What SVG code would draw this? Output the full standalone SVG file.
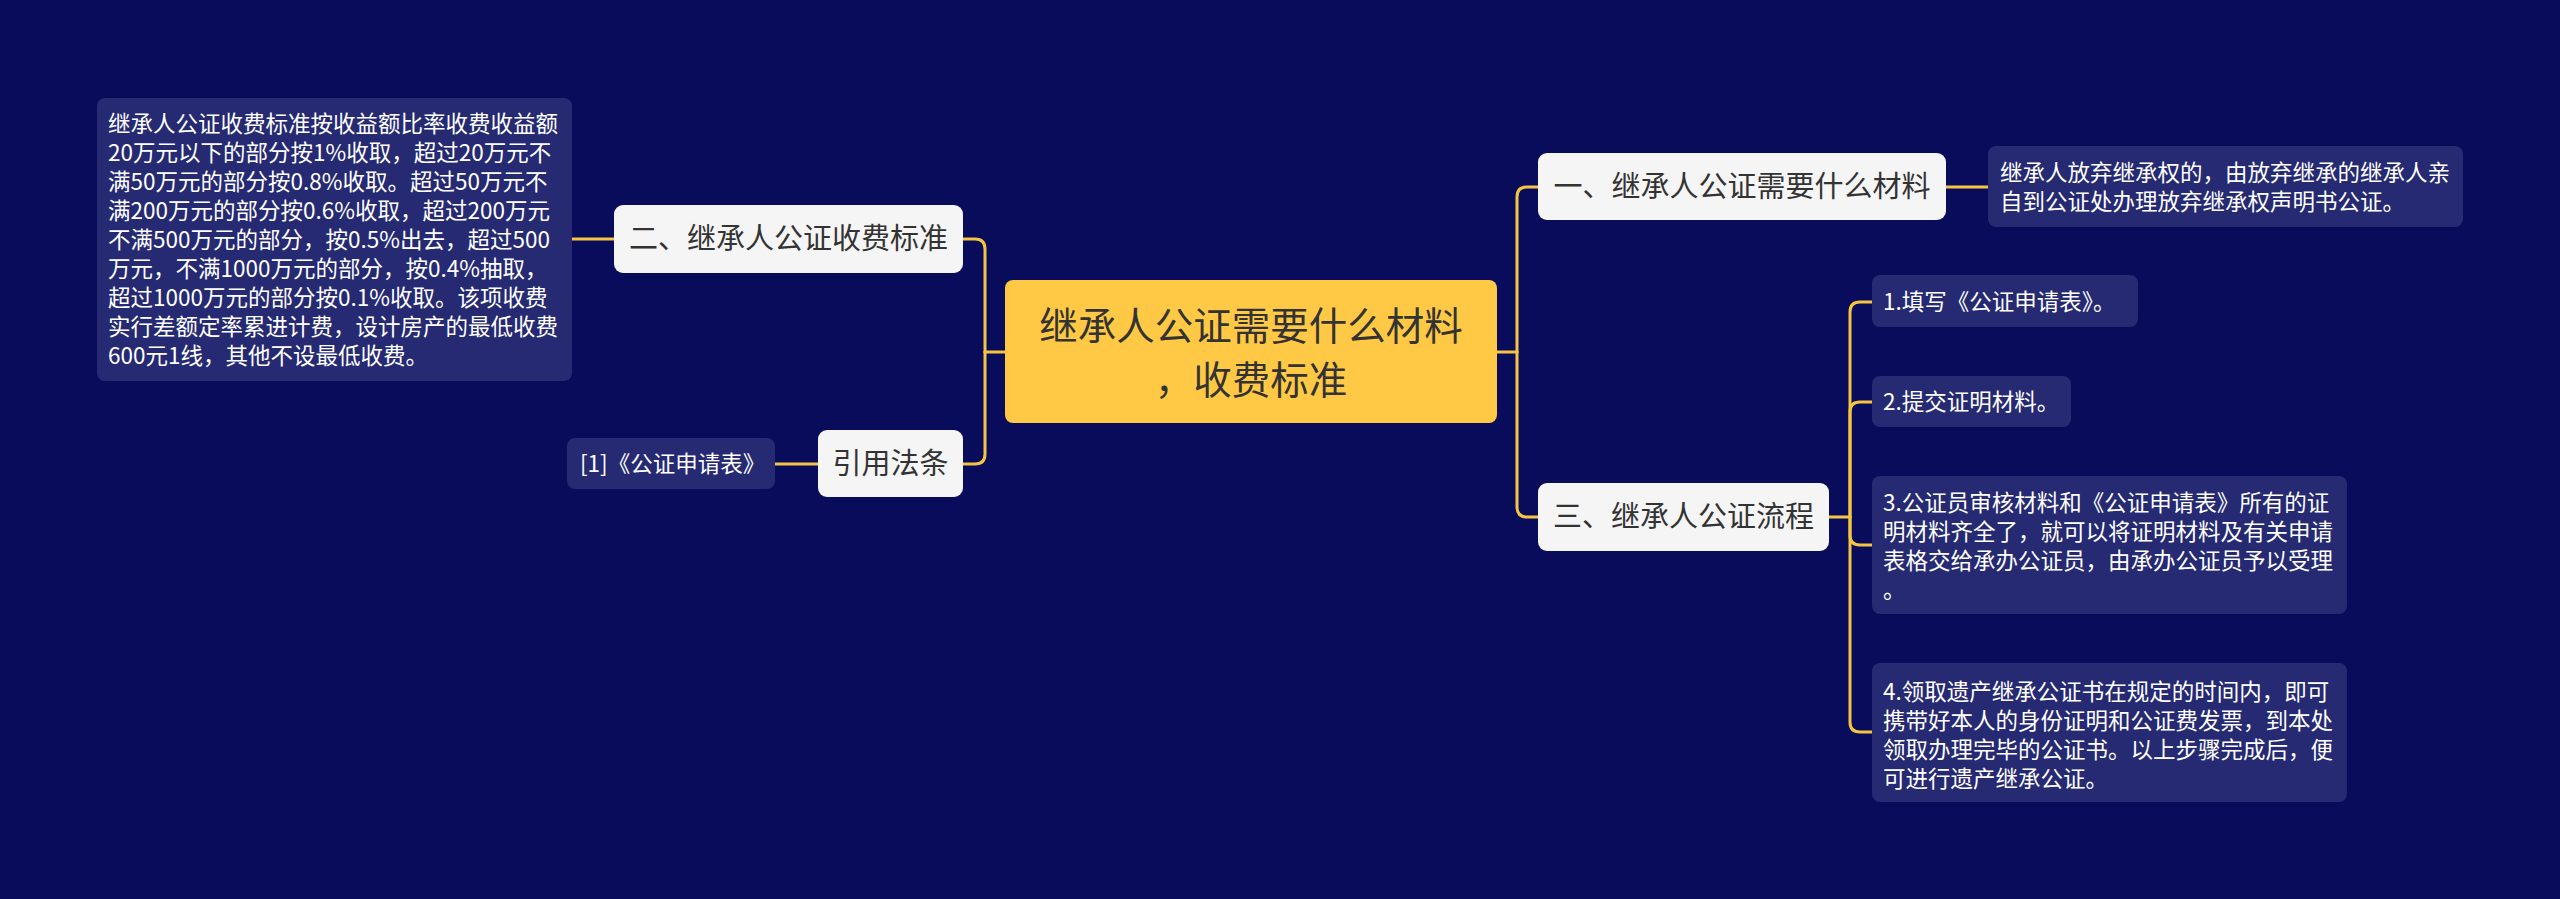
<svg xmlns="http://www.w3.org/2000/svg" width="2560" height="899" viewBox="0 0 2560 899">
<style>
.bg{fill:#080c5a}
.node{fill:#f5f5f5}
.root{fill:#ffc845}
.leaf{fill:#252a73}
.t{font-family:"Noto Sans CJK SC","Noto Sans",sans-serif}
.nt{font-size:29px;fill:#333333;text-anchor:middle}
.rt{font-size:38.5px;fill:#333333;text-anchor:middle}
.lt{font-size:22.5px;fill:#ffffff}
.c{fill:none;stroke:#f5c542;stroke-width:3;stroke-linecap:round}
</style>
<rect class="bg" x="0" y="0" width="2560" height="899"/>
<g id="connectors">
<path class="c" d="M1005,352 H985"/>
<path class="c" d="M985,352 V249 Q985,239 975,239 H963"/>
<path class="c" d="M985,352 V454 Q985,464 975,464 H963"/>
<path class="c" d="M614,239 H572"/>
<path class="c" d="M818,464 H775"/>
<path class="c" d="M1497,352 H1517"/>
<path class="c" d="M1517,352 V197 Q1517,187 1527,187 H1538"/>
<path class="c" d="M1517,352 V507 Q1517,517 1527,517 H1538"/>
<path class="c" d="M1946,187 H1988"/>
<path class="c" d="M1829,517 H1850"/>
<path class="c" d="M1850,517 V312 Q1850,302 1860,302 H1872"/>
<path class="c" d="M1850,517 V412 Q1850,402 1860,402 H1872"/>
<path class="c" d="M1850,517 V535 Q1850,545 1860,545 H1872"/>
<path class="c" d="M1850,517 V722 Q1850,732 1860,732 H1872"/>
</g>
<g id="root">
<rect class="root" x="1005" y="280" width="492" height="143" rx="8"/>
<text class="t rt" x="1251" y="340">继承人公证需要什么材料</text>
<text class="t rt" x="1251" y="394">，收费标准</text>
</g>
<g id="n2">
<rect class="node" x="614" y="205" width="349" height="68" rx="9"/>
<text class="t nt" x="788.5" y="249">二、继承人公证收费标准</text>
</g>
<g id="n2-leaf">
<rect class="leaf" x="97" y="98" width="475" height="283" rx="8"/>
<text class="t lt" x="108" y="132">继承人公证收费标准按收益额比率收费收益额</text>
<text class="t lt" x="108" y="161">20万元以下的部分按1%收取，超过20万元不</text>
<text class="t lt" x="108" y="190">满50万元的部分按0.8%收取。超过50万元不</text>
<text class="t lt" x="108" y="219">满200万元的部分按0.6%收取，超过200万元</text>
<text class="t lt" x="108" y="248">不满500万元的部分，按0.5%出去，超过500</text>
<text class="t lt" x="108" y="277">万元，不满1000万元的部分，按0.4%抽取，</text>
<text class="t lt" x="108" y="306">超过1000万元的部分按0.1%收取。该项收费</text>
<text class="t lt" x="108" y="335">实行差额定率累进计费，设计房产的最低收费</text>
<text class="t lt" x="108" y="364">600元1线，其他不设最低收费。</text>
</g>
<g id="ref">
<rect class="node" x="818" y="430" width="145" height="67" rx="9"/>
<text class="t nt" x="890.5" y="474">引用法条</text>
</g>
<g id="ref-leaf">
<rect class="leaf" x="567" y="438" width="208" height="51" rx="8"/>
<text class="t lt" x="580" y="472">[1]《公证申请表》</text>
</g>
<g id="n1">
<rect class="node" x="1538" y="153" width="408" height="67" rx="9"/>
<text class="t nt" x="1742" y="197">一、继承人公证需要什么材料</text>
</g>
<g id="n1-leaf">
<rect class="leaf" x="1988" y="146" width="475" height="81" rx="8"/>
<text class="t lt" x="2000" y="181">继承人放弃继承权的，由放弃继承的继承人亲</text>
<text class="t lt" x="2000" y="210">自到公证处办理放弃继承权声明书公证。</text>
</g>
<g id="n3">
<rect class="node" x="1538" y="483" width="291" height="68" rx="9"/>
<text class="t nt" x="1683.5" y="527">三、继承人公证流程</text>
</g>
<g id="s1">
<rect class="leaf" x="1872" y="275" width="266" height="52" rx="8"/>
<text class="t lt" x="1883" y="310">1.填写《公证申请表》。</text>
</g>
<g id="s2">
<rect class="leaf" x="1872" y="376" width="199" height="51" rx="8"/>
<text class="t lt" x="1883" y="410">2.提交证明材料。</text>
</g>
<g id="s3">
<rect class="leaf" x="1872" y="476" width="475" height="138" rx="8"/>
<text class="t lt" x="1883" y="511">3.公证员审核材料和《公证申请表》所有的证</text>
<text class="t lt" x="1883" y="540">明材料齐全了，就可以将证明材料及有关申请</text>
<text class="t lt" x="1883" y="569">表格交给承办公证员，由承办公证员予以受理</text>
<text class="t lt" x="1883" y="598">。</text>
</g>
<g id="s4">
<rect class="leaf" x="1872" y="663" width="475" height="139" rx="8"/>
<text class="t lt" x="1883" y="700">4.领取遗产继承公证书在规定的时间内，即可</text>
<text class="t lt" x="1883" y="729">携带好本人的身份证明和公证费发票，到本处</text>
<text class="t lt" x="1883" y="758">领取办理完毕的公证书。以上步骤完成后，便</text>
<text class="t lt" x="1883" y="787">可进行遗产继承公证。</text>
</g>
</svg>
